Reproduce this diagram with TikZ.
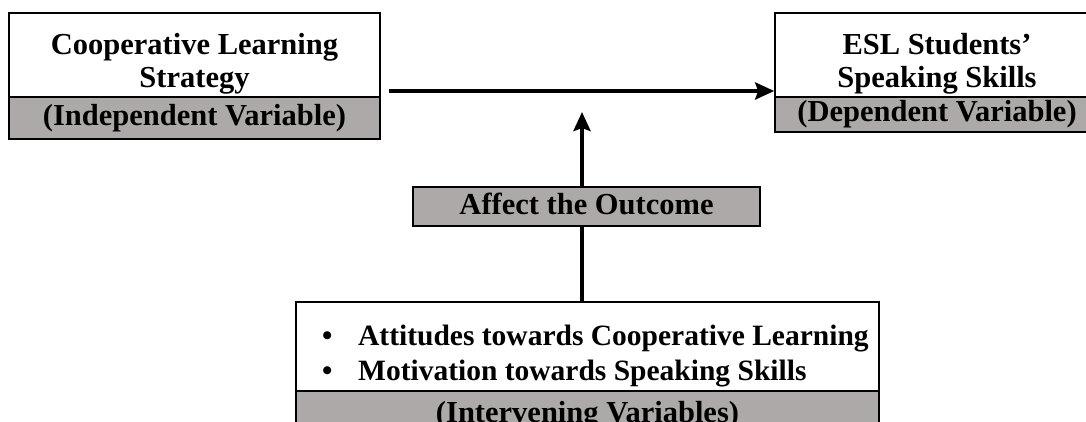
\documentclass[tikz,border=0pt]{standalone}
\usepackage{fontspec}
\setmainfont{Liberation Serif}
\usetikzlibrary{arrows.meta}
\definecolor{bandgray}{RGB}{173,169,169}
\tikzset{
  whitebox/.style={draw, line width=1.6pt, fill=white, inner sep=0pt},
  grayband/.style={draw, line width=1.6pt, fill=bandgray, inner sep=0pt,
    text height=21pt, text depth=6pt, font=\fontsize{30.5}{33}\selectfont\bfseries},
  boxtitle/.style={inner sep=0pt, align=center, font=\fontsize{30.5}{33}\selectfont\bfseries},
  thickarrow/.style={line width=4.5pt, -{Stealth[length=19pt,width=17pt,inset=3pt]}}
}

\begin{document}
\begin{tikzpicture}[x=1pt,y=-1pt]
			%%%%% START %%%%%
			\useasboundingbox (0,0) rectangle (1086,422);
			
			% independent variable
			\node[whitebox, minimum width=371pt, minimum height=84pt] (strategy) at (194.5,55) {};
			\node[grayband, minimum width=371pt, minimum height=42pt] (indep) at (194.5,118) {(Independent Variable)};
			\node[boxtitle, anchor=base] (strategytext) at (194.5,88) {Cooperative Learning\\Strategy};
			
			% dependent variable
			\node[whitebox, minimum width=324pt, minimum height=84pt] (speaking) at (937,55) {};
			\node[grayband, minimum width=324pt, minimum height=35pt] (dep) at (937,114.5) {(Dependent Variable)};
			\node[boxtitle, anchor=base] (speakingtext) at (937,88) {ESL Students'\\Speaking Skills};
			
			% intervening variables
			\node[whitebox, minimum width=583pt, minimum height=89pt] (factors) at (587.5,346.5) {};
			\node[grayband, minimum width=583pt, minimum height=47pt] (interv) at (587.5,414.5) {(Intervening Variables)};
			\node[inner sep=0pt, anchor=base west, align=left, font=\fontsize{29.5}{35}\selectfont\bfseries] (factortext) at (322,380)
				{\makebox[36pt][l]{\textbullet}Attitudes towards Cooperative Learning\\\makebox[36pt][l]{\textbullet}Motivation towards Speaking Skills};
			
			% arrows
			\coordinate (uptip) at (582,112);
			\draw[thickarrow] (factors.north -| uptip) -- (uptip);
			\node[grayband, minimum width=347pt, minimum height=39pt] (affect) at (586.5,206.5) {Affect the Outcome};
			
			\coordinate (hline) at (0,91);
			\draw[thickarrow, shorten <=8pt] (strategy.east |- hline) -- (speaking.west |- hline);
			
			%%%%% END %%%%%
\end{tikzpicture}
\end{document}
